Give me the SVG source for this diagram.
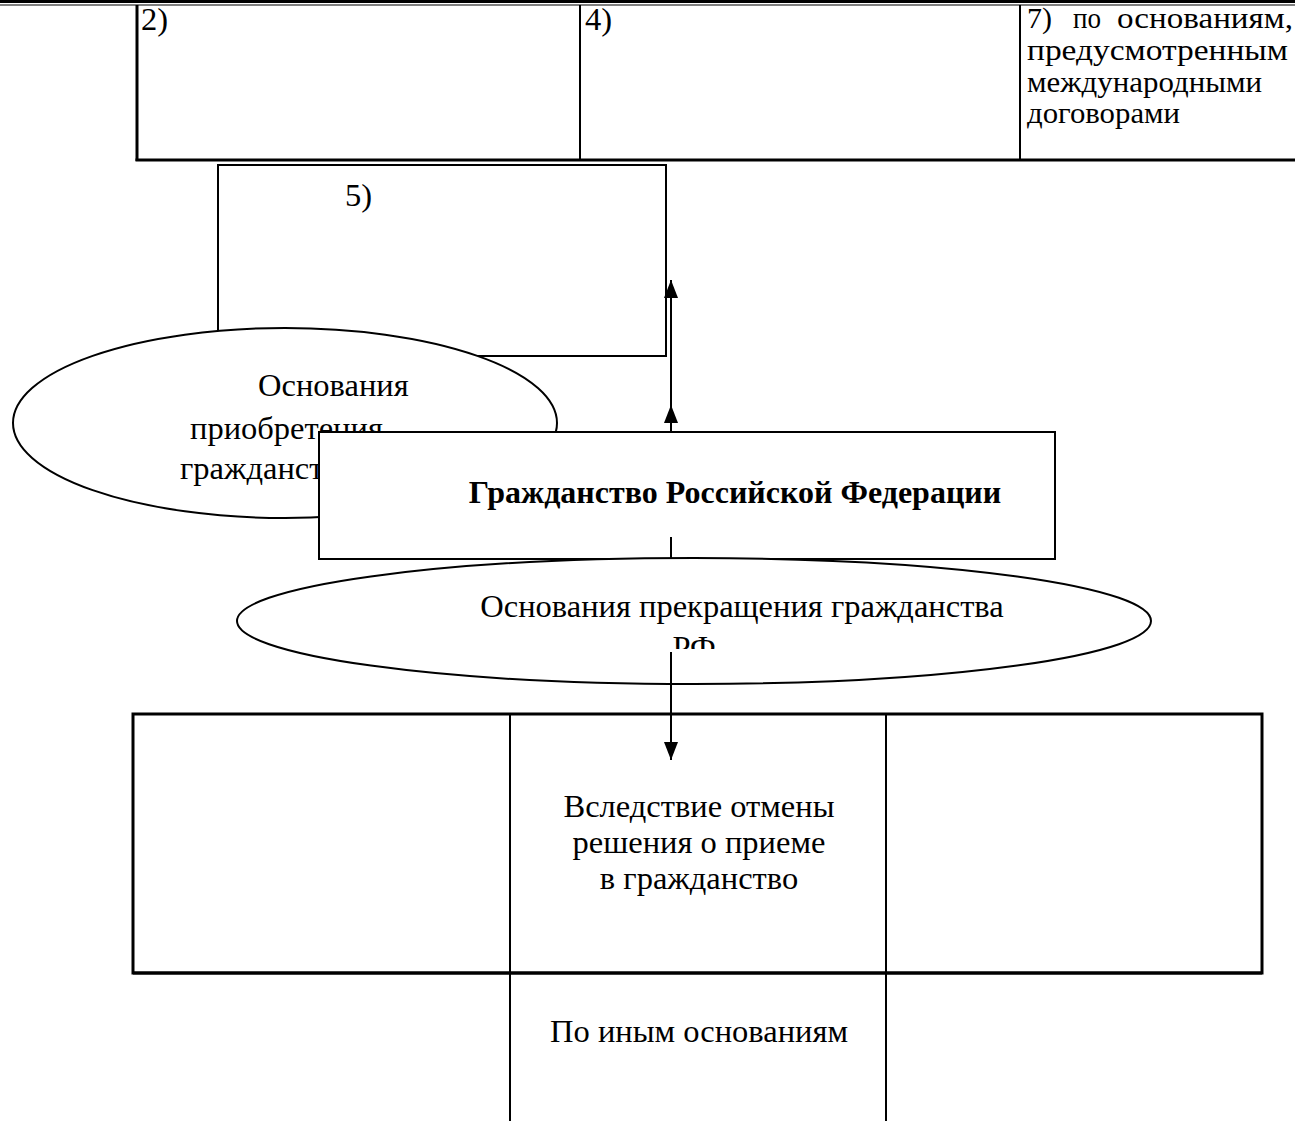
<svg xmlns="http://www.w3.org/2000/svg" width="1295" height="1121" viewBox="0 0 1295 1121">
<style>
.t{font-family:"Liberation Serif","Times New Roman",serif;font-size:32.5px;fill:#000}
.s{font-size:29px}
.b{font-weight:bold;font-size:32px}
.box{fill:#fff;stroke:#000;stroke-width:2}
.ln{stroke:#000;stroke-width:2;fill:none}
.thk{stroke:#000;stroke-width:3;fill:none}
.conn{stroke:#000;stroke-width:2;fill:none}
</style>
<defs>
<marker id="ah" markerUnits="userSpaceOnUse" viewBox="0 0 18 14" markerWidth="18" markerHeight="14" refX="18" refY="7" orient="auto">
<path d="M0,0 L18,7 L0,14 z" fill="#000"/>
</marker>
<clipPath id="rfclip"><rect x="0" y="0" width="1295" height="649"/></clipPath>
</defs>
<rect width="1295" height="1121" fill="#fff"/>

<g id="header-rule">
<line x1="0" y1="1.5" x2="1295" y2="1.5" stroke="#000" stroke-width="3"/>
<line x1="0" y1="5" x2="1295" y2="5" stroke="#000" stroke-width="1.2"/>
</g>

<g id="top-table">
<line x1="137" y1="5" x2="137" y2="161" class="thk"/>
<line x1="580" y1="5" x2="580" y2="161" class="ln"/>
<line x1="1020" y1="5" x2="1020" y2="161" class="ln"/>
<line x1="135.5" y1="160" x2="1295" y2="160" class="thk"/>
<text class="t" x="141" y="30">2)</text>
<text class="t" x="585" y="30">4)</text>
<text class="t s" x="1027" y="28" textLength="25" lengthAdjust="spacingAndGlyphs">7)</text>
<text class="t s" x="1073" y="28" textLength="28" lengthAdjust="spacingAndGlyphs">по</text>
<text class="t s" x="1117" y="28" textLength="176" lengthAdjust="spacingAndGlyphs">основаниям,</text>
<text class="t s" x="1027" y="60" textLength="261" lengthAdjust="spacingAndGlyphs">предусмотренным</text>
<text class="t s" x="1027" y="92" textLength="235" lengthAdjust="spacingAndGlyphs">международными</text>
<text class="t s" x="1027" y="123" textLength="153" lengthAdjust="spacingAndGlyphs">договорами</text>
</g>

<g id="node-5">
<rect x="218" y="165" width="448" height="191" class="box" stroke-width="1.5"/>
<text class="t" x="345" y="206">5)</text>
</g>

<g id="node-acquire">
<ellipse cx="285" cy="423" rx="272" ry="95" class="box" stroke-width="1.5"/>
<text class="t" x="258" y="396">Основания</text>
<text class="t" x="190" y="439">приобретения</text>
<text class="t" x="180" y="479">гражданства</text>
</g>

<g id="connectors-up">
<line x1="671" y1="432" x2="671" y2="280" class="conn" marker-end="url(#ah)"/>
<line x1="671" y1="432" x2="671" y2="405" class="conn" marker-end="url(#ah)"/>
</g>

<g id="node-main">
<rect x="319" y="432" width="736" height="127" class="box"/>
<text class="t b" x="735" y="503" text-anchor="middle">Гражданство Российской Федерации</text>
</g>

<g id="connector-main-stub">
<line x1="671" y1="537" x2="671" y2="559" class="conn"/>
</g>

<g id="node-terminate">
<ellipse cx="694" cy="621" rx="457" ry="63" class="box" stroke-width="1.5"/>
<text class="t" x="742" y="617" text-anchor="middle">Основания прекращения гражданства</text>
<text class="t" x="694" y="658" text-anchor="middle" clip-path="url(#rfclip)">РФ</text>
</g>

<g id="bottom-table">
<rect x="133" y="714" width="1129" height="259" fill="none" class="thk"/>
<line x1="510" y1="714" x2="510" y2="1121" class="ln" stroke-width="1.5"/>
<line x1="886" y1="714" x2="886" y2="1121" class="ln" stroke-width="1.5"/>
<line x1="133" y1="973" x2="1262" y2="973" class="thk"/>
<text class="t" x="699" y="817" text-anchor="middle">Вследствие отмены</text>
<text class="t" x="699" y="853" text-anchor="middle">решения о приеме</text>
<text class="t" x="699" y="889" text-anchor="middle">в гражданство</text>
<text class="t" x="699" y="1042" text-anchor="middle">По иным основаниям</text>
</g>

<g id="connector-down">
<line x1="671" y1="652" x2="671" y2="760" class="conn" marker-end="url(#ah)"/>
</g>
</svg>
